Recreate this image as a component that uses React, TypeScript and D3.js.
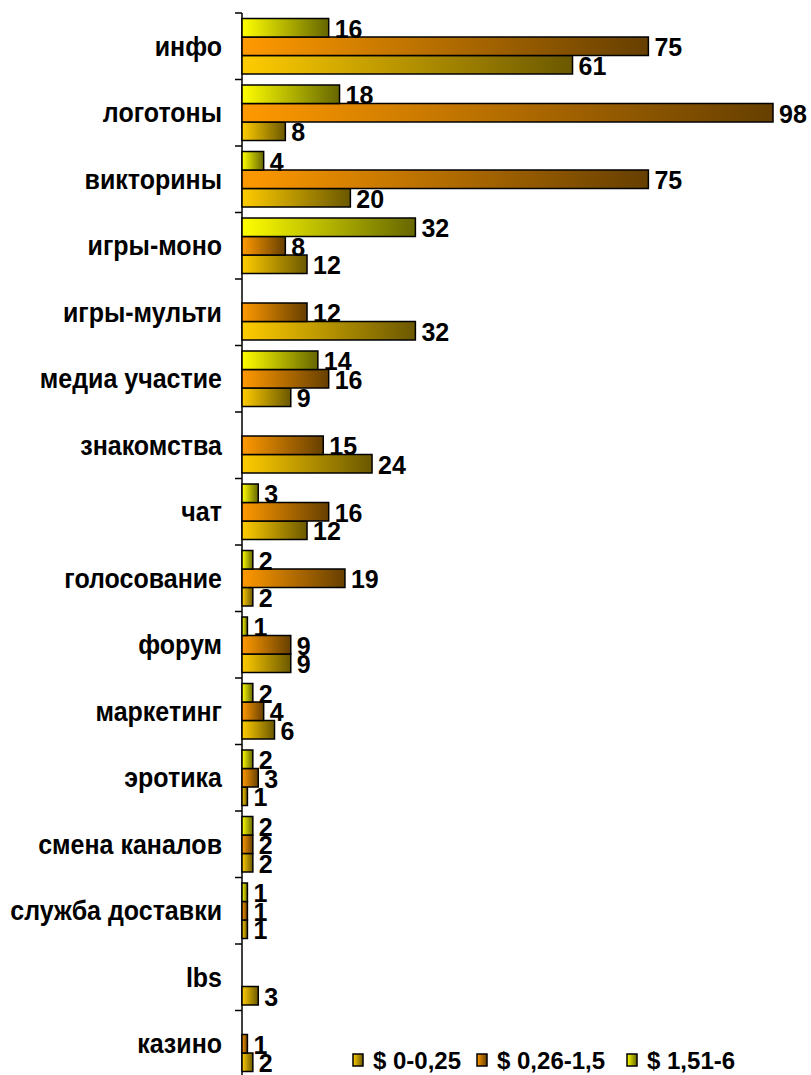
import React from "react";
import * as d3 from "d3";

const categories = [
  "инфо", "логотоны", "викторины", "игры-моно", "игры-мульти", "медиа участие",
  "знакомства", "чат", "голосование", "форум", "маркетинг", "эротика",
  "смена каналов", "служба доставки", "lbs", "казино",
];
const seriesNames = ["$ 0-0,25", "$ 0,26-1,5", "$ 1,51-6"];
// null = no bar
const low: (number | null)[] = [61, 8, 20, 12, 32, 9, 24, 12, 2, 9, 6, 1, 2, 1, 3, 2];
const mid: (number | null)[] = [75, 98, 75, 8, 12, 16, 15, 16, 19, 9, 4, 3, 2, 1, null, 1];
const high: (number | null)[] = [16, 18, 4, 32, null, 14, null, 3, 2, 1, 2, 2, 2, 1, null, null];
const seriesValues = [low, mid, high];
const gradients = [
  { id: "g-low", from: "#FFCC00", to: "#6B5800" },
  { id: "g-mid", from: "#FF9900", to: "#663F00" },
  { id: "g-high", from: "#FFFF00", to: "#666600" },
];

const W = 811;
const H = 1075;
const FONT = "'Liberation Sans', Arial, Helvetica, sans-serif";

export default function App() {
  const x = d3.scaleLinear().domain([0, 98]).range([242, 773]);
  const y = d3.scaleBand<string>().domain(categories).range([13, 13 + 16 * 66.5]).paddingInner(0);
  const bw = y.bandwidth();
  // top-to-bottom order within a category: high, mid, low
  const slotOrder = ["2", "1", "0"];
  const inner = d3.scaleBand<string>().domain(slotOrder).range([5.5, bw - 5.5]).paddingInner(0);
  const bh = inner.bandwidth();

  const ticks = d3.range(categories.length + 1).map((i) => 13 + i * bw);

  return (
    <svg width={W} height={H} style={{ position: "absolute", left: 0, top: 0, background: "#fff" }} fontFamily={FONT}>
      <defs>
        {gradients.map((g) => (
          <linearGradient key={g.id} id={g.id} x1="0" y1="0" x2="1" y2="0">
            <stop offset="0%" stopColor={g.from} />
            <stop offset="100%" stopColor={g.to} />
          </linearGradient>
        ))}
      </defs>
      {/* axis */}
      <line x1={242} x2={242} y1={13} y2={H} stroke="#000" strokeWidth={1.5} />
      {ticks.map((t, i) => (
        <line key={i} x1={235} x2={242} y1={t} y2={t} stroke="#000" strokeWidth={1.5} />
      ))}
      {/* category labels */}
      {categories.map((c) => (
        <text
          key={c}
          transform={`translate(222,${(y(c) as number) + bw / 2}) scale(1,1.12)`}
          textAnchor="end"
          dominantBaseline="central"
          fontSize={25}
          fontWeight="bold"
          fill="#000"
        >
          {c}
        </text>
      ))}
      {/* bars */}
      {seriesValues.map((vals, si) =>
        vals.map((v, ci) => {
          if (v === null) return null;
          const top = (y(categories[ci]) as number) + (inner(String(si)) as number);
          return (
            <g key={`${si}-${ci}`}>
              <rect
                x={x(0)}
                y={top}
                width={x(v) - x(0)}
                height={bh}
                fill={`url(#${gradients[si].id})`}
                stroke="#000"
                strokeWidth={1.5}
              />
              <text
                x={x(v) + 6}
                y={top + bh / 2 + 1}
                dominantBaseline="central"
                fontSize={25}
                fontWeight="bold"
                fill="#000"
              >
                {v}
              </text>
            </g>
          );
        })
      )}
      {/* legend */}
      {seriesNames.map((n, i) => {
        const lx = [353, 477, 627][i];
        return (
          <g key={n}>
            <rect x={lx} y={1054} width={10} height={12} fill={`url(#${gradients[i].id})`} stroke="#000" strokeWidth={1.5} />
            <text x={lx + 20} y={1060} dominantBaseline="central" fontSize={24} fontWeight="bold" fill="#000">
              {n}
            </text>
          </g>
        );
      })}
    </svg>
  );
}
